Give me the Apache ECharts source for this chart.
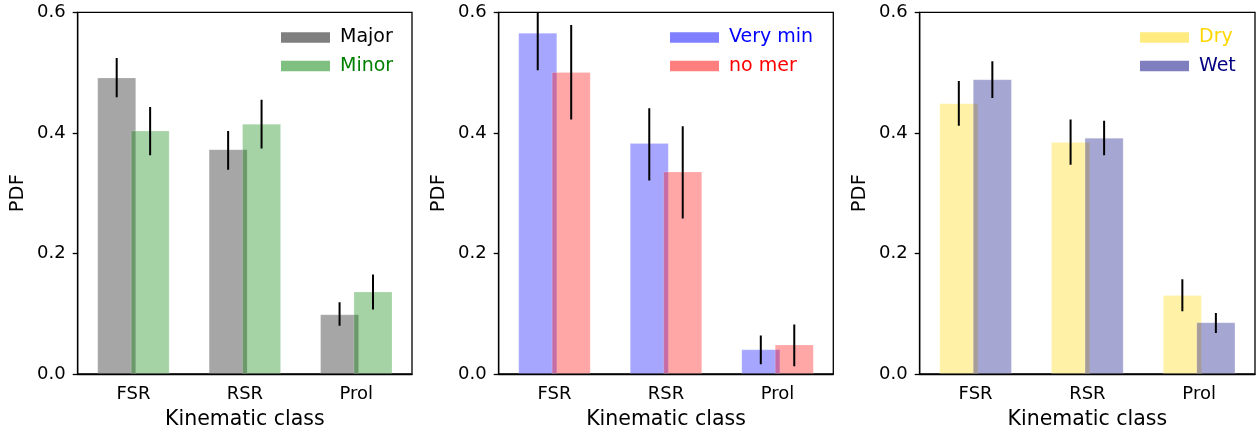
<!DOCTYPE html>
<html>
<head>
<meta charset="utf-8">
<script src="https://cdn.jsdelivr.net/npm/echarts@6/dist/echarts.min.js"></script>
<style>
html,body{margin:0;padding:0;background:#fff;}
#c{width:1259px;height:435px;}
</style>
</head>
<body>
<div id="c"></div>
<script>
var categories = ['FSR', 'RSR', 'Prol'];
var yTicks = [0.0, 0.2, 0.4, 0.6];

// Panel 1
var majorVals = [0.492, 0.373, 0.099];
var majorErr  = [[0.459, 0.524], [0.339, 0.403], [0.080, 0.119]];
var minorVals = [0.404, 0.415, 0.137];
var minorErr  = [[0.363, 0.443], [0.374, 0.455], [0.107, 0.165]];

// Panel 2
var veryMinVals = [0.566, 0.383, 0.041];
var veryMinErr  = [[0.504, 0.628], [0.321, 0.441], [0.016, 0.064]];
var noMerVals   = [0.501, 0.336, 0.049];
var noMerErr    = [[0.422, 0.579], [0.258, 0.411], [0.013, 0.082]];

// Panel 3
var dryVals = [0.449, 0.385, 0.131];
var dryErr  = [[0.412, 0.486], [0.347, 0.422], [0.104, 0.157]];
var wetVals = [0.489, 0.392, 0.086];
var wetErr  = [[0.458, 0.519], [0.363, 0.420], [0.068, 0.101]];

var FONT = 'DejaVu Sans';
var grids = [
  {left: 77.7, right: 847, top: 12.3, bottom: 60.3},
  {left: 498.7, right: 425.7, top: 12.3, bottom: 60.3},
  {left: 919.7, right: 4, top: 12.3, bottom: 60.3}
];

var panels = [
  {a: {name: 'Major', vals: majorVals, err: majorErr, rgb: '0,0,0', text: '#000000'},
   b: {name: 'Minor', vals: minorVals, err: minorErr, rgb: '0,128,0', text: '#008000'},
   legendLeft: 281},
  {a: {name: 'Very min', vals: veryMinVals, err: veryMinErr, rgb: '0,0,255', text: '#0000ff'},
   b: {name: 'no mer', vals: noMerVals, err: noMerErr, rgb: '255,0,0', text: '#ff0000'},
   legendLeft: 670},
  {a: {name: 'Dry', vals: dryVals, err: dryErr, rgb: '255,215,0', text: '#ffd700'},
   b: {name: 'Wet', vals: wetVals, err: wetErr, rgb: '0,0,128', text: '#000080'},
   legendLeft: 1140}
];

var xAxes = [], yAxes = [], series = [], legends = [];

function errSeries(idx, err, offset) {
  return {
    type: 'custom',
    xAxisIndex: idx, yAxisIndex: idx,
    clip: true,
    silent: true,
    z: 10,
    data: err.map(function (e, i) { return [i, e[0], e[1]]; }),
    renderItem: function (params, api) {
      var lo = api.coord([api.value(0), api.value(1)]);
      var hi = api.coord([api.value(0), api.value(2)]);
      var bw = api.size([1, 0])[0];
      var x = lo[0] + offset * bw;
      var shape = echarts.graphic.clipPointsByRect([[x, lo[1]], [x, hi[1]]], {
        x: params.coordSys.x, y: params.coordSys.y,
        width: params.coordSys.width, height: params.coordSys.height
      });
      if (!shape) return;
      return {
        type: 'line',
        shape: {x1: shape[0][0], y1: shape[0][1], x2: shape[1][0], y2: shape[1][1]},
        style: {stroke: '#000', lineWidth: 2}
      };
    }
  };
}

panels.forEach(function (p, idx) {
  xAxes.push({
    type: 'category', gridIndex: idx, data: categories,
    name: 'Kinematic class', nameLocation: 'middle', nameGap: 35,
    nameTextStyle: {fontFamily: FONT, fontSize: 20.5, color: '#000'},
    axisLine: {lineStyle: {color: '#000', width: 1.3}},
    axisTick: {alignWithLabel: true, length: 5, lineStyle: {color: '#000', width: 1.3}},
    axisLabel: {fontFamily: FONT, fontSize: 18, color: '#000', margin: 11},
    splitLine: {show: false}
  });
  yAxes.push({
    type: 'value', gridIndex: idx, min: 0, max: 0.6, interval: 0.2,
    name: 'PDF', nameLocation: 'middle', nameGap: 50, nameRotate: 90,
    nameTextStyle: {fontFamily: FONT, fontSize: 19.5, color: '#000'},
    axisLine: {show: true, lineStyle: {color: '#000', width: 1.3}},
    axisTick: {show: true, length: 5, lineStyle: {color: '#000', width: 1.3}},
    axisLabel: {fontFamily: FONT, fontSize: 18, color: '#000', margin: 12,
      formatter: function (v) { return v.toFixed(1); }},
    splitLine: {show: false}
  });
  [p.a, p.b].forEach(function (s, k) {
    series.push({
      type: 'bar', name: s.name, xAxisIndex: idx, yAxisIndex: idx,
      data: s.vals,
      barWidth: '35%', barGap: '-14.3%',
      itemStyle: {color: 'rgba(' + s.rgb + ',0.35)', borderColor: 'rgba(255,255,255,0.18)', borderWidth: 1},
      emphasis: {disabled: true},
      animation: false
    });
  });
  series.push(errSeries(idx, p.a.err, -0.15));
  series.push(errSeries(idx, p.b.err, 0.15));
  legends.push({
    orient: 'vertical', left: p.legendLeft, top: 28, padding: 0,
    itemWidth: 49, itemHeight: 10.7, itemGap: 9.5,
    icon: 'rect', selectedMode: false,
    textStyle: {fontFamily: FONT, fontSize: 19, padding: [0, 0, 0, 5]},
    data: [p.a, p.b].map(function (s) {
      return {name: s.name, itemStyle: {color: 'rgba(' + s.rgb + ',0.5)', borderWidth: 0},
        textStyle: {color: s.text}};
    })
  });
});

var grid = grids.map(function (g) {
  return {left: g.left, right: g.right, top: g.top, bottom: g.bottom, show: true,
    borderColor: '#000', borderWidth: 1.3, backgroundColor: 'transparent'};
});

var chart = echarts.init(document.getElementById('c'), null, {renderer: 'canvas'});
chart.setOption({
  animation: false,
  backgroundColor: '#fff',
  grid: grid,
  xAxis: xAxes,
  yAxis: yAxes,
  legend: legends,
  series: series
});
</script>
</body>
</html>
